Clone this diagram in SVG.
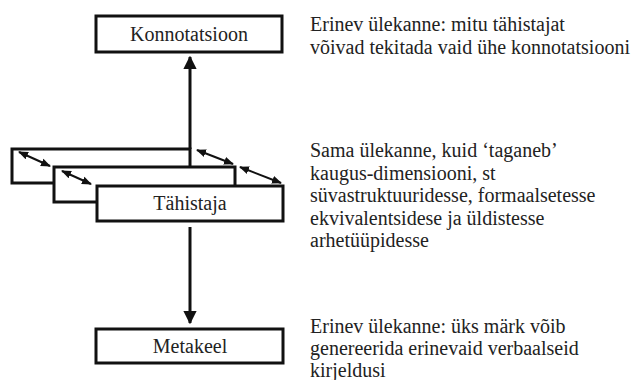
<svg xmlns="http://www.w3.org/2000/svg" width="639" height="380" viewBox="0 0 639 380">
  <defs>
    <marker id="head" viewBox="0 0 10 10" refX="9" refY="5" markerWidth="4.4" markerHeight="4.6" orient="auto-start-reverse" markerUnits="strokeWidth">
      <path d="M0,0 L10,5 L0,10 z" fill="#111"/>
    </marker>
    <marker id="small" viewBox="0 0 10 10" refX="9" refY="5" markerWidth="5" markerHeight="5" orient="auto-start-reverse" markerUnits="strokeWidth">
      <path d="M0,1 L10,5 L0,9 z" fill="#111"/>
    </marker>
  </defs>
  <style>
    .box { fill: #fff; stroke: #111; stroke-width: 3; }
    .lbl { font-family: "Liberation Serif", "Times New Roman", serif; font-size: 20px; fill: #222; }
    .mid { text-anchor: middle; }
    .arrow { stroke: #111; stroke-width: 3; fill: none; }
    .dbl { stroke: #111; stroke-width: 2; fill: none; }
  </style>
  <rect width="639" height="380" fill="#fff"/>

  <g id="connectors">
    <line class="arrow" x1="190" y1="149" x2="190" y2="57" marker-end="url(#head)"/>
    <line class="arrow" x1="190" y1="227" x2="190" y2="323" marker-end="url(#head)"/>
  </g>

  <g id="tahistaja">
    <rect class="box" x="12" y="149" width="178" height="34"/>
    <rect class="box" x="54" y="167" width="181" height="35"/>
    <rect class="box" x="97" y="186" width="186" height="35"/>
    <text class="lbl mid" x="190" y="210">Tähistaja</text>
    <g id="distance">
      <line class="dbl" x1="19" y1="152" x2="50" y2="166" marker-start="url(#small)" marker-end="url(#small)"/>
      <line class="dbl" x1="62" y1="171" x2="91" y2="184" marker-start="url(#small)" marker-end="url(#small)"/>
      <line class="dbl" x1="197" y1="150" x2="233" y2="164" marker-start="url(#small)" marker-end="url(#small)"/>
      <line class="dbl" x1="240" y1="167" x2="281" y2="183" marker-start="url(#small)" marker-end="url(#small)"/>
    </g>
  </g>

  <g id="konnotatsioon">
    <rect class="box" x="96" y="16" width="186" height="36"/>
    <text class="lbl mid" x="189" y="41">Konnotatsioon</text>
  </g>

  <g id="metakeel">
    <rect class="box" x="96" y="329" width="187" height="34"/>
    <text class="lbl mid" x="190" y="353">Metakeel</text>
  </g>

  <g id="notes">
    <text class="lbl" x="310" y="31">Erinev ülekanne: mitu tähistajat</text>
    <text class="lbl" x="310" y="54">võivad tekitada vaid ühe konnotatsiooni</text>
    <text class="lbl" x="310" y="157">Sama ülekanne, kuid ‘taganeb’</text>
    <text class="lbl" x="310" y="180">kaugus-dimensiooni, st</text>
    <text class="lbl" x="310" y="202">süvastruktuuridesse, formaalsetesse</text>
    <text class="lbl" x="310" y="225">ekvivalentsidese ja üldistesse</text>
    <text class="lbl" x="310" y="247">arhetüüpidesse</text>
    <text class="lbl" x="310" y="333">Erinev ülekanne: üks märk võib</text>
    <text class="lbl" x="310" y="355">genereerida erinevaid verbaalseid</text>
    <text class="lbl" x="310" y="377">kirjeldusi</text>
  </g>
</svg>
